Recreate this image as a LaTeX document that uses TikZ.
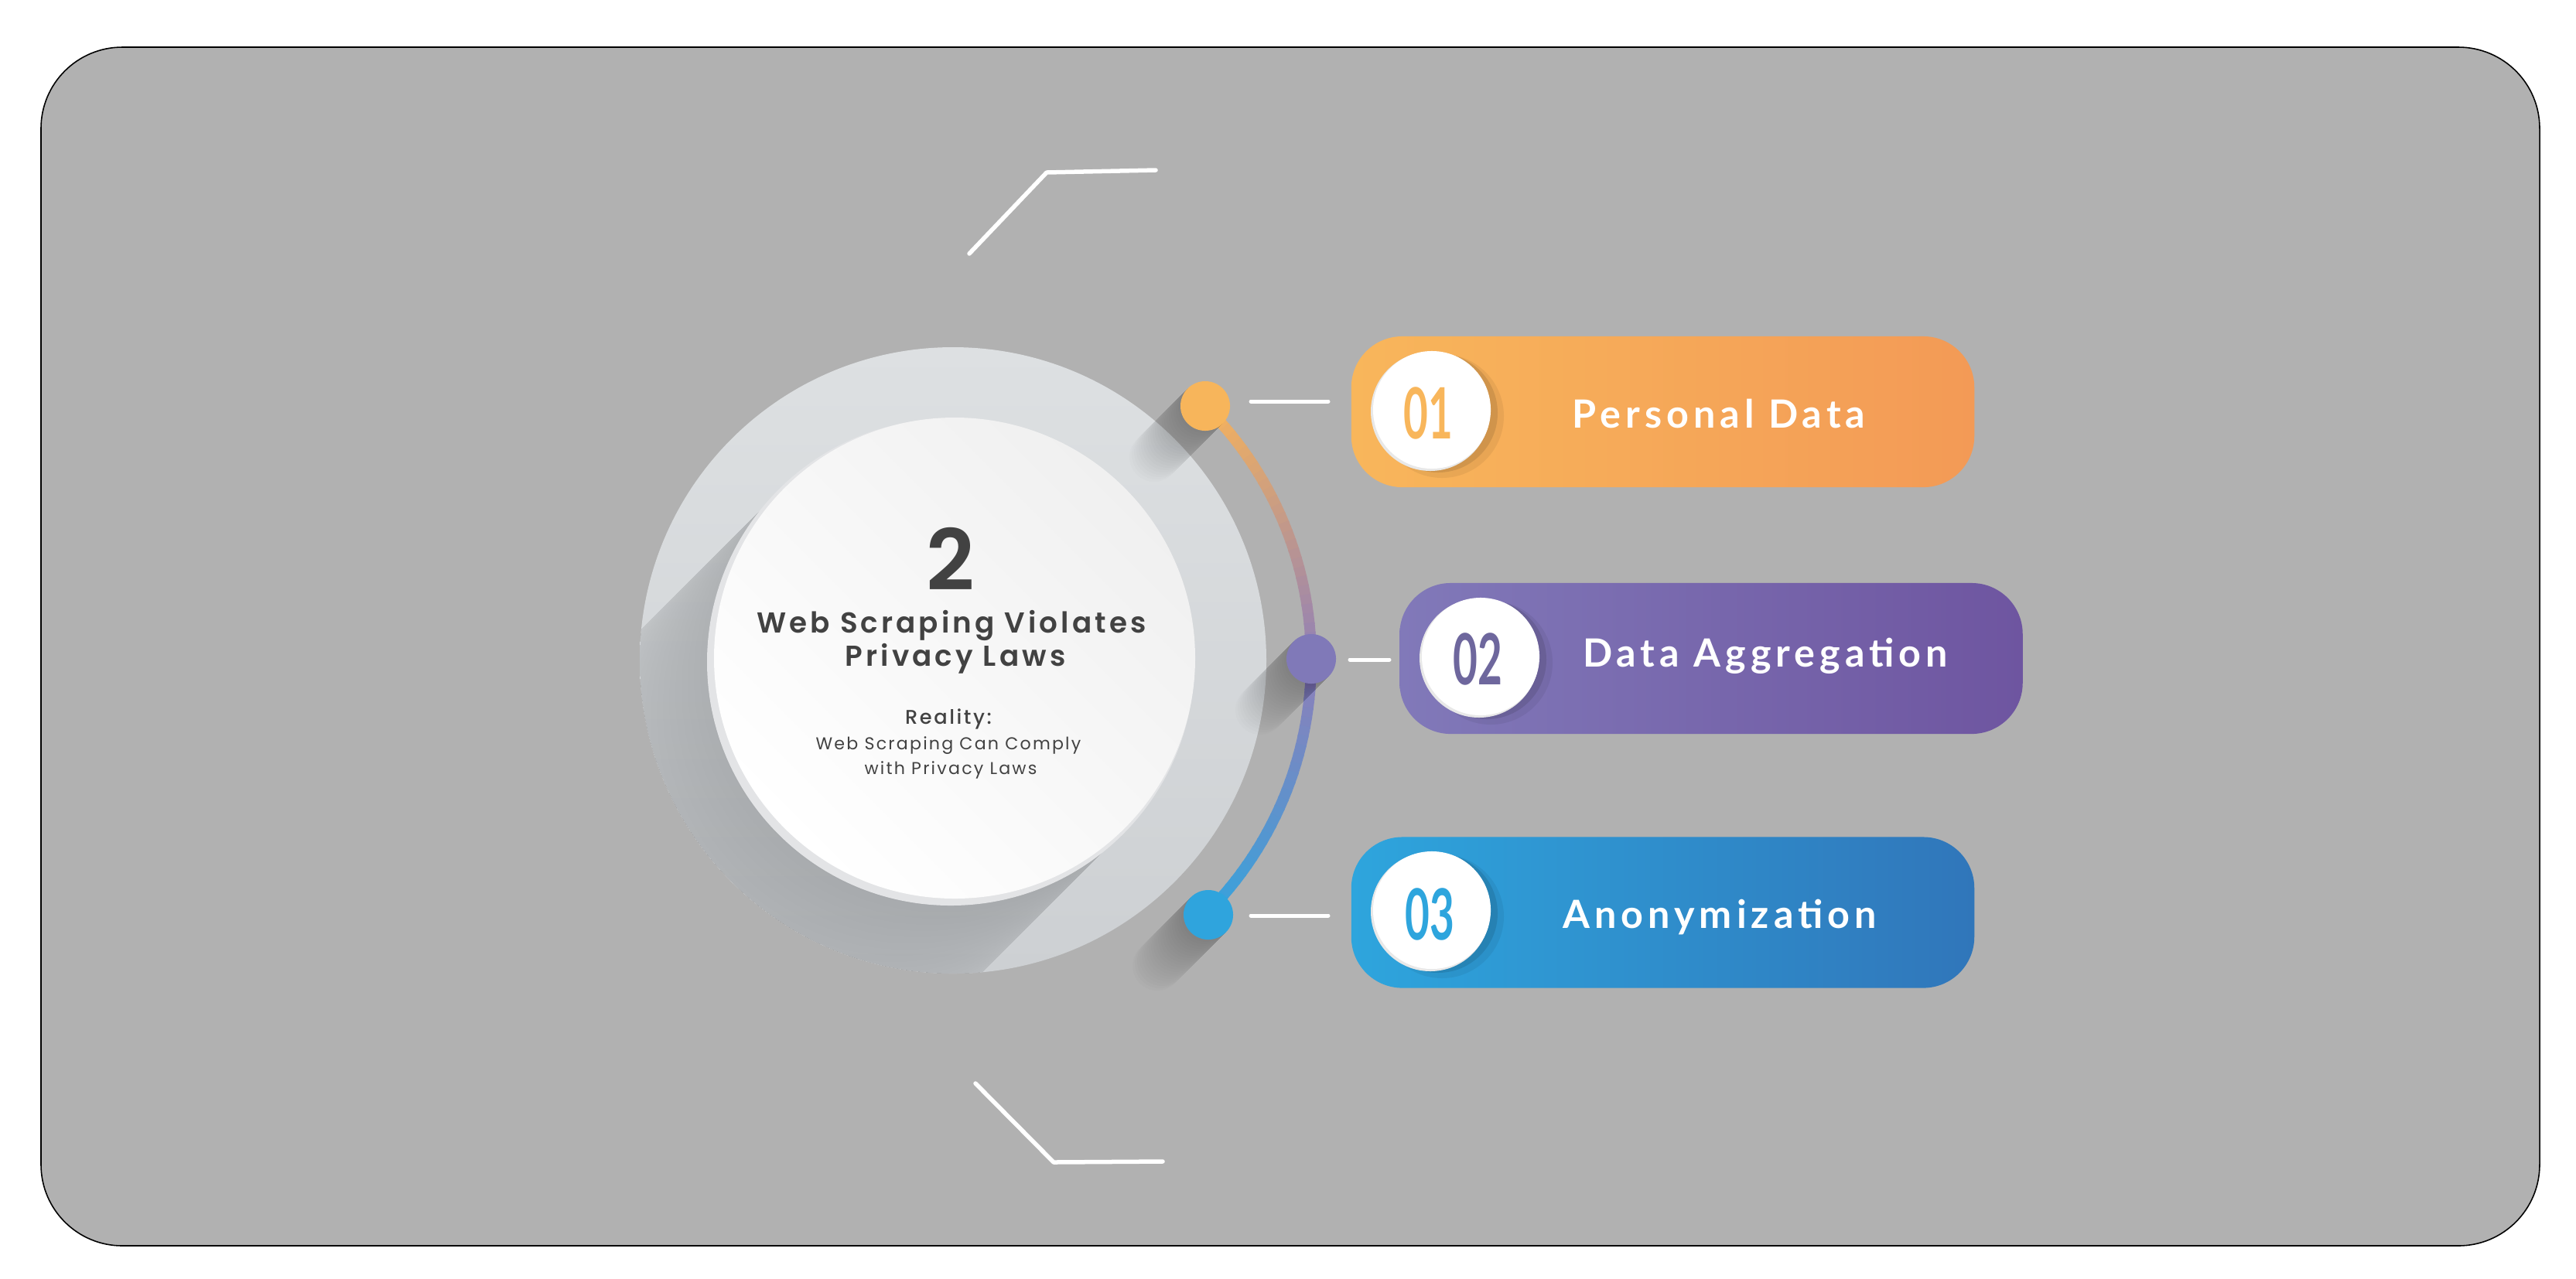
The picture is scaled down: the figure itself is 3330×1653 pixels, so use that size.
\documentclass[tikz,border=0pt]{standalone}
\usepackage{fontspec}
\usepackage{graphicx}
\usetikzlibrary{calc}
\newfontfamily\popT{Poppins}[LetterSpace=11, BoldFont={Poppins SemiBold}]
\newfontfamily\popR{Poppins Medium}[LetterSpace=10]
\newfontfamily\popS{Poppins}[LetterSpace=10]
\newfontfamily\popN{Poppins}[BoldFont={Poppins SemiBold}]
\newfontfamily\latoL{Lato}[LetterSpace=12]
\newfontfamily\latoD{Lato}

\definecolor{bgc}{HTML}{B1B1B1}
\definecolor{ringtop}{HTML}{DDE0E2}
\definecolor{ringbot}{HTML}{CDD0D3}
\definecolor{rimc}{HTML}{E3E4E6}
\definecolor{wtop}{HTML}{F0F0F0}
\definecolor{txt}{HTML}{424242}
\definecolor{oA}{HTML}{F8B65B}
\definecolor{oB}{HTML}{F39A56}
\definecolor{vA}{HTML}{8179B9}
\definecolor{vB}{HTML}{6E55A0}
\definecolor{bA}{HTML}{2EA5DD}
\definecolor{bB}{HTML}{3076BA}
\definecolor{arcO}{HTML}{F5B25C}
\definecolor{arcM}{HTML}{8E7FB9}
\definecolor{arcB}{HTML}{35A3DD}
\definecolor{dotO}{HTML}{F7B55B}
\definecolor{dotV}{HTML}{8079B8}
\definecolor{dotB}{HTML}{2FA4DD}

\tikzset{
 dotn/.style={circle, inner sep=0pt, minimum size=0.64cm, draw=none},
 pill/.style={rectangle, rounded corners=0.66cm, minimum width=8.05cm, minimum height=1.95cm, inner sep=0pt, draw=none},
 numc/.style={circle, inner sep=0pt, minimum size=1.52cm, fill=white, draw=none},
 wline/.style={white, line width=0.05cm, line cap=round},
 deco/.style={white, line width=0.055cm, line cap=round, line join=round},
 plabel/.style={anchor=base, text=white, inner sep=0pt, font=\latoL\bfseries\fontsize{14.3}{17}\selectfont},
 digit/.style={inner sep=0pt, font=\latoD\bfseries\fontsize{26}{30}\selectfont},
 ctext/.style={anchor=base, text=txt, inner sep=0pt},
}

\begin{document}
\begin{tikzpicture}[x=0.01cm,y=0.01cm]
\useasboundingbox (0,0) rectangle (3330,-1653);
\fill[white] (0,0) rectangle (3330,-1653);
\draw[black, line width=0.45pt, fill=bgc, rounded corners=1.05cm] (53,-61) rectangle (3283,-1611);

% decorative corner lines
\coordinate (t1) at (1253,-328); \coordinate (t2) at (1353,-223); \coordinate (t3) at (1494,-220);
\draw[deco] (t1) -- (t2) -- (t3);
\coordinate (b1) at (1261,-1401); \coordinate (b2) at (1362,-1503); \coordinate (b3) at (1503,-1502);
\draw[deco] (b1) -- (b2) -- (b3);

% outer ring
\coordinate (C) at (1232,-854);
\coordinate (W) at (1234,-851);
\shade[top color=ringtop, bottom color=ringbot] (C) circle (405);
\begin{scope}
\clip (C) circle (405);
\foreach \L in {8,16,...,320}{
 \fill[black,opacity=0.0052] ([shift={(135:313)}]W) -- ++(-\L,-\L) arc[start angle=135,end angle=315,radius=313] -- ([shift={(-45:313)}]W) -- cycle;
}
\end{scope}
\fill[rimc] (1229,-856) circle (315);
\shade[top color=wtop, bottom color=white, shading angle=-45] (W) circle (311);

% gradient arc
\foreach \i in {0,...,59}{
 \pgfmathsetmacro\a{45.3-\i*1.51}
 \ifnum\i<30 \pgfmathtruncatemacro\q{\i*100/30}\colorlet{ac}{arcM!\q!arcO}\else\pgfmathtruncatemacro\q{(\i-30)*100/29}\colorlet{ac}{arcB!\q!arcM}\fi
 \draw[ac, line width=0.14cm] ([shift={(\a:463)}]C) arc[start angle=\a, end angle=\a-1.8, radius=463];
}

% dots with long shadows
\coordinate (D1) at (1558,-525);
\coordinate (D2) at (1695,-852);
\coordinate (D3) at (1562,-1183);
\foreach \D in {D1,D2,D3}{
 \foreach \L in {3,6,...,66}{
  \fill[black,opacity=0.012] ([shift={(135:32)}]\D) -- ++(-\L,-\L) arc[start angle=135,end angle=315,radius=32] -- ([shift={(-45:32)}]\D) -- cycle;
 }
}
\node[dotn, fill=dotO] (d1) at (D1) {};
\node[dotn, fill=dotV] (d2) at (D2) {};
\node[dotn, fill=dotB] (d3) at (D3) {};

% short white lines
\coordinate (l1a) at (1617,-519); \coordinate (l1b) at (1717,-519);
\coordinate (l2a) at (1745,-853); \coordinate (l2b) at (1796,-853);
\coordinate (l3a) at (1617,-1184); \coordinate (l3b) at (1717,-1184);
\draw[wline] (l1a) -- (l1b);
\draw[wline] (l2a) -- (l2b);
\draw[wline] (l3a) -- (l3b);

% pills
\node[pill, left color=oA, right color=oB] (p1) at (2149.5,-532.5) {};
\node[pill, left color=vA, right color=vB] (p2) at (2212,-851.5) {};
\node[pill, left color=bA, right color=bB] (p3) at (2149.5,-1180) {};

% number circles
\foreach \X/\Y in {1851/-530, 1914/-849, 1851/-1177}{
 \fill[black,opacity=0.06] (\X+13,\Y-8) circle (80);
 \fill[black,opacity=0.10] (\X+8,\Y-4) circle (77);
 \fill[black!9] (\X-2,\Y-2) circle (77);
}
\node[numc] (n1) at (1851,-530) {};
\node[numc] (n2) at (1914,-849) {};
\node[numc] (n3) at (1851,-1177) {};
\node[digit, text=oA] (g1) at (1846,-534) {\scalebox{0.6}[1]{01}};
\node[digit, text=vA!85!black] (g2) at (1910,-852) {\scalebox{0.6}[1]{02}};
\node[digit, text=bA] (g3) at (1848,-1182) {\scalebox{0.6}[1]{03}};

% pill labels
\node[plabel] (lab1) at (2222,-553) {Personal Data};
\node[plabel] (lab2) at (2282,-862) {Data Aggregation};
\node[plabel] (lab3) at (2223,-1200) {Anonymization};

% centre texts
\node[ctext, font=\popN\bfseries\fontsize{31}{36}\selectfont] (big) at (1229,-763) {2};
\node[ctext, font=\popT\bfseries\fontsize{10.6}{13}\selectfont] (tt1) at (1230,-818) {Web Scraping Violates};
\node[ctext, font=\popT\bfseries\fontsize{10.6}{13}\selectfont] (tt2) at (1235,-861) {Privacy Laws};
\node[ctext, font=\popR\fontsize{7.3}{9}\selectfont] (rl) at (1226,-936) {Reality:};
\node[ctext, font=\popS\fontsize{6.3}{8}\selectfont] (s1) at (1226,-969) {Web Scraping Can Comply};
\node[ctext, font=\popS\fontsize{6.3}{8}\selectfont] (s2) at (1229,-1001) {with Privacy Laws};
\end{tikzpicture}
\end{document}
